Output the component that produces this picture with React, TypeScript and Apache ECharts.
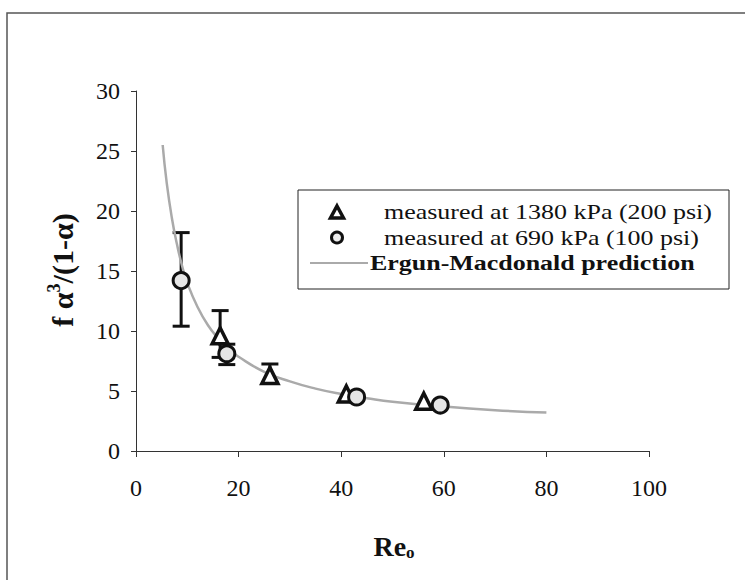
import React, { useEffect, useRef } from "react";
import * as echarts from "echarts";

// Ergun-Macdonald prediction
const curveX = [5.2, 6, 7, 8, 9, 10, 12, 14, 16, 18, 20, 25, 30, 35, 40, 45, 50, 60, 70, 80];
const curveY = [25.5, 22.3, 19.4, 17.2, 15.4, 14.0, 12.0, 10.5, 9.4, 8.5, 7.85, 6.6, 5.8, 5.2, 4.75, 4.4, 4.1, 3.7, 3.4, 3.2];

// measured at 1380 kPa (200 psi)
const triX = [16.4, 26.1, 41.0, 56.1];
const triY = [9.6, 6.3, 4.75, 4.15];
const triLow = [7.8, 5.7, null, null];
const triHigh = [11.7, 7.25, null, null];

// measured at 690 kPa (100 psi)
const circX = [8.8, 17.7, 43.0, 59.3];
const circY = [14.2, 8.1, 4.5, 3.83];
const circLow = [10.4, 7.2, null, null];
const circHigh = [18.2, 8.9, null, null];

const seriesNames = [
  "measured at 1380 kPa (200 psi)",
  "measured at 690 kPa (100 psi)",
  "Ergun-Macdonald prediction",
];

const FONT = "'Liberation Serif', 'Times New Roman', serif";

export default function App() {
  const ref = useRef<HTMLDivElement>(null);
  useEffect(() => {
    if (!ref.current) return;
    const chart = echarts.init(ref.current, null, { renderer: "svg" });

    const errData: number[][] = [];
    triX.forEach((x, i) => {
      if (triLow[i] != null && triHigh[i] != null) errData.push([x, triLow[i] as number, triHigh[i] as number]);
    });
    circX.forEach((x, i) => {
      if (circLow[i] != null && circHigh[i] != null) errData.push([x, circLow[i] as number, circHigh[i] as number]);
    });

    const legendText = (text: string, x: number, y: number, bold: boolean) => ({
      type: "text",
      x,
      y,
      scaleX: 1.18,
      style: { text, font: `${bold ? "bold " : ""}22px ${FONT}`, fill: "#111", verticalAlign: "middle" },
      z: 11,
    });

    const option: any = {
      animation: false,
      backgroundColor: "#ffffff",
      grid: { left: 136, right: 96, top: 91, bottom: 129 },
      xAxis: {
        type: "value",
        min: 0,
        max: 100,
        interval: 20,
        splitLine: { show: false },
        axisLine: { lineStyle: { color: "#333", width: 1 } },
        axisTick: { length: 6, lineStyle: { color: "#333" } },
        axisLabel: { color: "#111", fontFamily: FONT, fontSize: 24, margin: 25 },
      },
      yAxis: {
        type: "value",
        min: 0,
        max: 30,
        interval: 5,
        splitLine: { show: false },
        axisLine: { show: true, lineStyle: { color: "#333", width: 1 } },
        axisTick: { show: true, length: 5, lineStyle: { color: "#333" } },
        axisLabel: { color: "#111", fontFamily: FONT, fontSize: 24, margin: 16 },
      },
      graphic: [
        {
          type: "rect",
          silent: true,
          shape: { x: 7, y: 13, width: 900, height: 800 },
          style: { fill: "none", stroke: "#555", lineWidth: 1.5 },
        },
        {
          type: "text",
          x: 62,
          y: 270,
          rotation: Math.PI / 2,
          style: {
            text: "{b|f α}{s|3}{b|/(1-α)}",
            align: "center",
            verticalAlign: "middle",
            fill: "#111",
            rich: {
              b: { fontFamily: FONT, fontSize: 30, fontWeight: "bold", fill: "#111", lineHeight: 34 },
              s: { fontFamily: FONT, fontSize: 18, fontWeight: "bold", fill: "#111", verticalAlign: "top", lineHeight: 34, padding: [0, 0, 12, 0] },
            },
          },
        },
        {
          type: "text",
          x: 394,
          y: 546,
          style: {
            text: "{b|Re}{s|o}",
            align: "center",
            verticalAlign: "middle",
            fill: "#111",
            rich: {
              b: { fontFamily: FONT, fontSize: 28, fontWeight: "bold", fill: "#111", lineHeight: 32 },
              s: { fontFamily: FONT, fontSize: 17, fontWeight: "bold", fill: "#111", padding: [12, 0, 0, 0], lineHeight: 32 },
            },
          },
        },
        // legend
        {
          type: "rect",
          shape: { x: 298, y: 190, width: 431, height: 99 },
          style: { fill: "#fff", stroke: "#222", lineWidth: 1 },
          z: 10,
        },
        {
          type: "polygon",
          shape: { points: [[337, 206], [343.5, 218], [330.5, 218]] },
          style: { fill: "#fff", stroke: "#111", lineWidth: 3.5, lineJoin: "miter" },
          z: 11,
        },
        {
          type: "circle",
          shape: { cx: 337, cy: 237.5, r: 5.5 },
          style: { fill: "#eee", stroke: "#111", lineWidth: 3 },
          z: 11,
        },
        {
          type: "line",
          shape: { x1: 310, y1: 263, x2: 368, y2: 263 },
          style: { stroke: "#aaa", lineWidth: 2 },
          z: 11,
        },
        legendText(seriesNames[0], 384, 212, false),
        legendText(seriesNames[1], 384, 237.5, false),
        legendText(seriesNames[2], 370, 263, true),
      ],
      series: [
        {
          type: "custom",
          name: "error",
          data: errData,
          z: 2,
          renderItem: (params: any, api: any) => {
            const x = api.value(0);
            const lo = api.coord([x, api.value(1)]);
            const hi = api.coord([x, api.value(2)]);
            const w = 8.5;
            const st = { stroke: "#111", lineWidth: 3 };
            return {
              type: "group",
              children: [
                { type: "line", shape: { x1: lo[0], y1: lo[1], x2: hi[0], y2: hi[1] }, style: st },
                { type: "line", shape: { x1: lo[0] - w, y1: lo[1], x2: lo[0] + w, y2: lo[1] }, style: st },
                { type: "line", shape: { x1: hi[0] - w, y1: hi[1], x2: hi[0] + w, y2: hi[1] }, style: st },
              ],
            };
          },
        },
        {
          type: "line",
          name: seriesNames[2],
          data: curveX.map((x, i) => [x, curveY[i]]),
          smooth: true,
          showSymbol: false,
          lineStyle: { color: "#aaa", width: 2.5 },
          z: 3,
        },
        {
          type: "scatter",
          name: seriesNames[0],
          data: triX.map((x, i) => [x, triY[i]]),
          symbol: "triangle",
          symbolSize: 16,
          itemStyle: { color: "#fff", borderColor: "#111", borderWidth: 3.5, opacity: 1 },
          z: 4,
        },
        {
          type: "scatter",
          name: seriesNames[1],
          data: circX.map((x, i) => [x, circY[i]]),
          symbol: "circle",
          symbolSize: 16,
          itemStyle: { color: "#e6e6e6", borderColor: "#111", borderWidth: 3, opacity: 1 },
          z: 5,
        },
      ],
    };
    chart.setOption(option);
    return () => chart.dispose();
  }, []);
  return <div ref={ref} style={{ position: "fixed", left: 0, top: 0, width: 745, height: 580 }} />;
}
